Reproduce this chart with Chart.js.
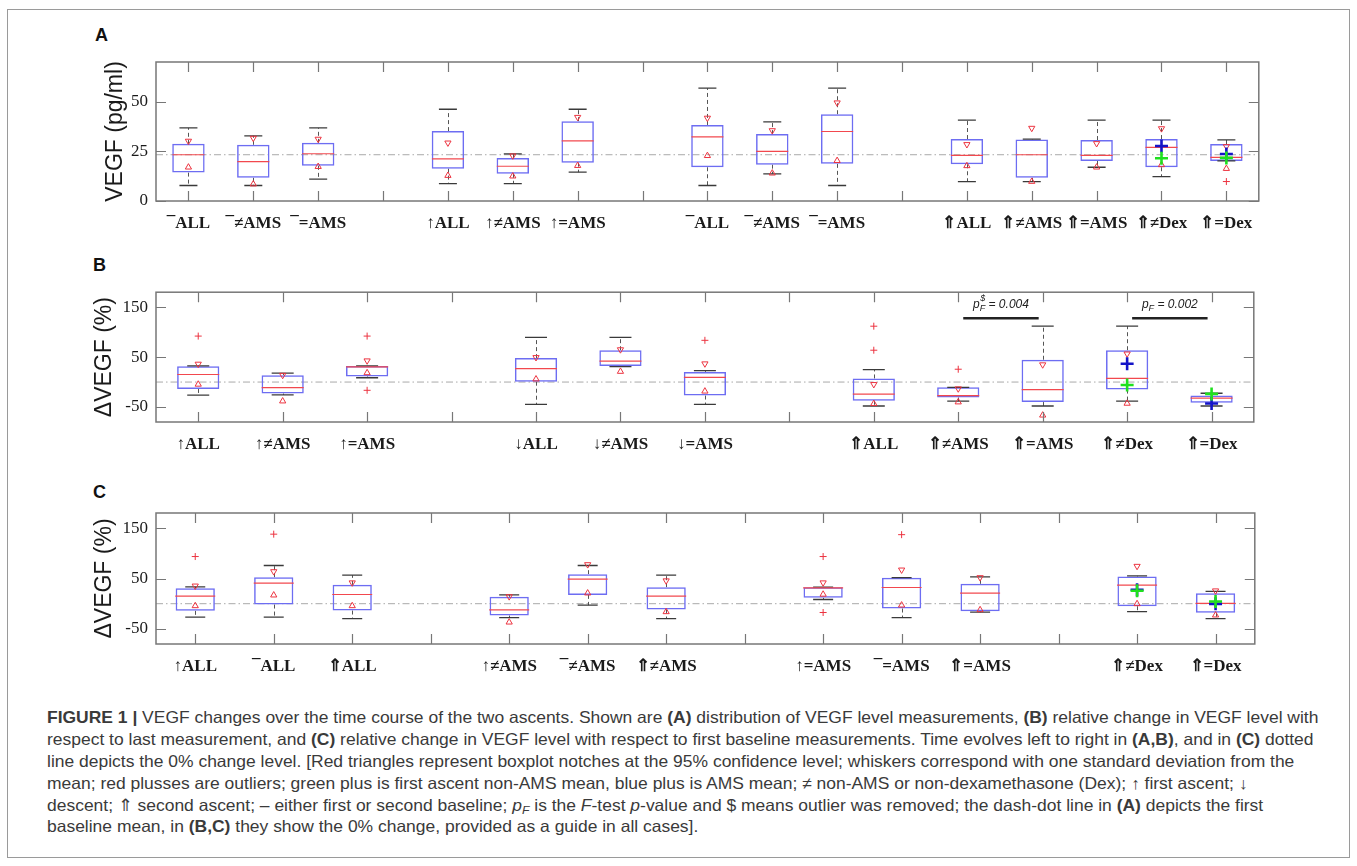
<!DOCTYPE html>
<html><head><meta charset="utf-8">
<script src="https://cdn.jsdelivr.net/npm/chart.js@4.4.0/dist/chart.umd.min.js"></script>
<style>
body{margin:0;background:#fff;width:1357px;height:866px;position:relative;overflow:hidden;font-family:'Liberation Sans',Arial,sans-serif}
#frame{position:absolute;left:7px;top:9px;width:1343px;height:849px;border:1px solid #9a9a9a;box-sizing:border-box}
.pl{position:absolute;font:bold 18px 'Liberation Sans',Arial,sans-serif;color:#111;line-height:18px}
canvas{position:absolute}
.cap{position:absolute;left:47px;white-space:nowrap;font-size:16.5px;color:#3a3a3a;transform-origin:0 50%;line-height:22px;height:22px}
.cap sub{font-size:70%;vertical-align:-3px;line-height:0}
</style></head>
<body>
<div id="frame"></div>
<div class="pl" style="left:95px;top:26px">A</div>
<div class="pl" style="left:93px;top:256px">B</div>
<div class="pl" style="left:93px;top:483px">C</div>
<canvas id="cA" width="1178" height="201" style="left:98px;top:40px"></canvas>
<canvas id="cB" width="1189" height="192" style="left:87px;top:270px"></canvas>
<canvas id="cC" width="1189" height="194" style="left:87px;top:490px"></canvas>
<div class="cap" style="top:706px"><b>FIGURE 1 |</b> VEGF changes over the time course of the two ascents. Shown are <b>(A)</b> distribution of VEGF level measurements, <b>(B)</b> relative change in VEGF level with</div>
<div class="cap" style="top:728px">respect to last measurement, and <b>(C)</b> relative change in VEGF level with respect to first baseline measurements. Time evolves left to right in <b>(A,B)</b>, and in <b>(C)</b> dotted</div>
<div class="cap" style="top:750px">line depicts the 0% change level. [Red triangles represent boxplot notches at the 95% confidence level; whiskers correspond with one standard deviation from the</div>
<div class="cap" style="top:772px">mean; red plusses are outliers; green plus is first ascent non-AMS mean, blue plus is AMS mean; ≠ non-AMS or non-dexamethasone (Dex); ↑ first ascent; ↓</div>
<div class="cap" style="top:794px">descent; ⇑ second ascent; – either first or second baseline; <i>p<sub>F</sub></i> is the <i>F</i>-test <i>p</i>-value and $ means outlier was removed; the dash-dot line in <b>(A)</b> depicts the first</div>
<div class="cap" style="top:815px">baseline mean, in <b>(B,C)</b> they show the 0% change, provided as a guide in all cases].</div>
<script>
// ---------- Panel A: VEGF (pg/ml) ----------
const labelsA = ['¯ALL','¯≠AMS','¯=AMS','','↑ALL','↑≠AMS','↑=AMS','','¯ALL','¯≠AMS','¯=AMS','','⇑ALL','⇑≠AMS','⇑=AMS','⇑≠Dex','⇑=Dex'];
const whLoA   = [7.8, 7.8, 11, null, 8.8, 8.8, 14.5, null, 7.8, 13.7, 7.8, null, 9.8, 9.8, 17, 12.3, 20.2];
const q1A     = [14.3, 11.7, 17.7, null, 16.3, 13.7, 19.3, null, 17, 18.3, 18.7, null, 18.5, 11.7, 20.2, 17, 20.2];
const medA    = [23.3, 19.8, 23.8, null, 21.2, 17.5, 30.3, null, 32.3, 25, 35, null, 23, 23.3, 23, 27, 22];
const q3A     = [28.8, 28.3, 29.3, null, 35.2, 21.7, 40.2, null, 38.3, 33.7, 43.7, null, 31.2, 31, 30.7, 31.2, 28.7];
const whHiA   = [36.8, 32.8, 36.8, null, 46.2, 23.7, 46.2, null, 56.8, 39.8, 56.8, null, 40.7, 31.2, 40.7, 40.7, 30.8];
const notchHiA= [30.2, 31.7, 31.2, null, 29.3, 22.8, 42.2, null, 41.8, 35.5, 49.5, null, 28.5, 36.7, 29, 36.5, 27.5];
const notchLoA= [17, 8.5, 17.3, null, 12.8, 12.5, 17.8, null, 22.8, 14, 20.3, null, 17.7, 9.8, 17, 18.2, 16.3];
const out1A   = [null,null,null,null,null,null,null,null,null,null,null,null,null,null,null,null,9.8];
const out2A   = [null,null,null,null,null,null,null,null,null,null,null,null,null,null,null,null,null];
const greenA  = [null,null,null,null,null,null,null,null,null,null,null,null,null,null,null,21.5,21.7];
const blueA   = [null,null,null,null,null,null,null,null,null,null,null,null,null,null,null,27.7,23.7];
const guideA  = 23.3;
const yTicksA = [0, 25, 50];

// ---------- Panel B: ΔVEGF vs last measurement ----------
const labelsB = ['↑ALL','↑≠AMS','↑=AMS','','↓ALL','↓≠AMS','↓=AMS','','⇑ALL','⇑≠AMS','⇑=AMS','⇑≠Dex','⇑=Dex'];
const whLoB   = [-26.3, -25.7, 8.6, null, -44.7, 30.9, -44.7, null, -48, -38.2, -48, -38.2, -48];
const q1B     = [-13.8, -23, 11.2, null, 0.7, 32.2, -27, null, -37.5, -30.9, -40.1, -15.1, -41.5];
const medB    = [15.1, -11.2, 30.3, null, 27, 42.1, 9.2, null, -24.3, -27, -15.1, 7.2, -32.2];
const q3B     = [31.6, 13.8, 32.2, null, 48, 63.8, 20.4, null, 7.2, -10.5, 44.7, 63.8, -27];
const whHiB   = [32.5, 17.8, 32.5, null, 89.5, 89.5, 23, null, 25, -10.5, 111.9, 111.9, -22.4];
const notchHiB= [36.2, 13.8, 42.8, null, 49.4, 65.1, 36.8, null, -4.6, -13.2, 34.9, 56.6, null];
const notchLoB= [-4.6, -38.2, 18.4, null, 5.9, 21.1, -18.4, null, -43.4, -40.1, -66.5, -42.8, null];
const out1B   = [92.1, null, 92.1, null, null, null, 83.6, null, 111.9, 25.7, null, null, null];
const out2B   = [null, null, -16.5, null, null, null, null, null, 63.8, null, null, null, null];
const greenB  = [null,null,null,null,null,null,null,null,null,null,null,-5.9,-23.7];
const blueB   = [null,null,null,null,null,null,null,null,null,null,null,36.8,-42.8];
const guideB  = 0;
const yTicksB = [-50, 50, 150];
const annB    = [{from:9, to:10, y:128, sup:'$', val:' = 0.004'}, {from:11, to:12, y:128, sup:'', val:' = 0.002'}];

// ---------- Panel C: ΔVEGF vs first baseline ----------
const labelsC = ['↑ALL','¯ALL','⇑ALL','','↑≠AMS','¯≠AMS','⇑≠AMS','','↑=AMS','¯=AMS','⇑=AMS','','⇑≠Dex','⇑=Dex'];
const whLoC   = [-26.8, -26.8, -29.5, null, -27.5, -3, -29.5, null, 8.3, -27.5, -16.9, null, -15.6, -29.8];
const q1C     = [-14.2, -1.7, -13.6, null, -23.5, 17.5, -11.6, null, 11.6, -9.6, -14.9, null, -5, -17.9];
const medC    = [14.9, 40.7, 18.2, null, -12.3, 48.7, 14.9, null, 31.5, 32.1, 20.9, null, 36.8, 0.7];
const q3C     = [30.8, 52.6, 37.4, null, 13.6, 58.6, 32.8, null, 32.8, 51.3, 39.4, null, 54, 20.5];
const whHiC   = [33.4, 75.8, 56.6, null, 17.5, 75.8, 56.6, null, 33, 51.9, 53.3, null, 55.3, 24.5];
const notchHiC= [35.4, 63.9, 41.7, null, 14.2, 77.8, 45.7, null, 41.7, 67.2, 52, null, 74.5, 25.8];
const notchLoC= [-4.3, 16.9, -4.3, null, -36.8, 20.9, -16.2, null, 18.5, -3, -12.3, null, -0.3, -22.8];
const out1C   = [93.6, 138, null, null, null, null, null, null, 93.6, 137, null, null, null, null];
const out2C   = [null, null, null, null, null, null, null, null, -17.5, null, null, null, null, null];
const greenC  = [null,null,null,null,null,null,null,null,null,null,null,null,25.8,4.3];
const blueC   = [null,null,null,null,null,null,null,null,null,null,null,null,27.8,-0.3];
const guideC  = 0;
const yTicksC = [-50, 50, 150];

const RED = '#ec3440', BOX = '#6d6df2', MED = '#f2484e', FRAME = '#777';

function makePlugin(d, ann){
  return {
    id:'boxparts',
    beforeDatasetsDraw(chart){
      const {ctx, chartArea:a, scales:{x, y}} = chart;
      ctx.save();
      ctx.lineWidth = 1; ctx.strokeStyle = '#a9a9a9'; ctx.setLineDash([7,3,1.5,3]);
      const gy = y.getPixelForValue(d.guide);
      ctx.beginPath(); ctx.moveTo(a.left, gy); ctx.lineTo(a.right, gy); ctx.stroke();
      ctx.setLineDash([4,3]); ctx.strokeStyle = '#555';
      d.q1.forEach((v, i) => {
        if (v == null) return;
        const px = Math.round(x.getPixelForValue(i)) + 0.5;
        ctx.beginPath();
        ctx.moveTo(px, y.getPixelForValue(d.q3[i])); ctx.lineTo(px, y.getPixelForValue(d.hi[i]));
        ctx.moveTo(px, y.getPixelForValue(v)); ctx.lineTo(px, y.getPixelForValue(d.lo[i]));
        ctx.stroke();
      });
      ctx.restore();
    },
    afterDraw(chart){
      const {ctx, chartArea:a, scales:{x, y}} = chart;
      ctx.save();
      ctx.strokeStyle = FRAME; ctx.lineWidth = 1.5; ctx.setLineDash([]);
      ctx.strokeRect(a.left, a.top, a.right - a.left, a.bottom - a.top);
      ctx.beginPath();
      for (let i = 0; i < chart.data.labels.length; i++) {
        const px = Math.round(x.getPixelForValue(i)) + 0.5;
        ctx.moveTo(px, a.bottom); ctx.lineTo(px, a.bottom - 10);
        ctx.moveTo(px, a.top); ctx.lineTo(px, a.top + 10);
      }
      y.ticks.forEach(t => {
        const py = Math.round(y.getPixelForValue(t.value)) + 0.5;
        ctx.moveTo(a.left, py); ctx.lineTo(a.left + 10, py);
        ctx.moveTo(a.right, py); ctx.lineTo(a.right - 10, py);
      });
      ctx.lineWidth = 1.2; ctx.stroke();
      (ann || []).forEach(n => {
        const x0 = x.getPixelForValue(n.from) + 5, x1 = x.getPixelForValue(n.to) - 4;
        const ly = y.getPixelForValue(n.y);
        ctx.beginPath(); ctx.strokeStyle = '#222'; ctx.lineWidth = 2.5;
        ctx.moveTo(x0, ly); ctx.lineTo(x1, ly); ctx.stroke();
        ctx.fillStyle = '#222'; ctx.textBaseline = 'middle'; ctx.textAlign = 'left';
        const big = 'italic 12px "Liberation Sans", Arial', small = 'italic 9px "Liberation Sans", Arial';
        ctx.font = big; const wp = ctx.measureText('p').width, wv = ctx.measureText(n.val).width;
        ctx.font = small; const wf = Math.max(ctx.measureText('F').width, ctx.measureText(n.sup).width);
        const tot = wp + wf + wv; let tx = (x0 + x1) / 2 - tot / 2; const ty = ly - 14;
        ctx.font = big; ctx.fillText('p', tx, ty); tx += wp;
        ctx.font = small; ctx.fillText('F', tx, ty + 4); if (n.sup) ctx.fillText(n.sup, tx + 0.5, ty - 6); tx += wf;
        ctx.font = big; ctx.fillText(n.val, tx, ty);
      });
      ctx.restore();
    }
  };
}

function makeChart(id, labels, d, opt){
  const pt = (data, style, r, color, bw, extra) => Object.assign({
    type:'line', data, showLine:false, pointStyle:style, pointRadius:r, pointHoverRadius:r,
    borderColor:color, pointBorderColor:color, pointBackgroundColor:'rgba(0,0,0,0)', borderWidth:bw, pointBorderWidth:bw
  }, extra || {});
  const datasets = [
    pt(d.green, 'cross', 6.5, '#1fe01f', 2.6),
    pt(d.blue, 'cross', 6.5, '#1414c8', 2.6),
    pt(d.out1, 'cross', 3.5, RED, 1),
    pt(d.out2, 'cross', 3.5, RED, 1),
    pt(d.nHi, 'triangle', 3.6, RED, 1, {pointRotation:180}),
    pt(d.nLo, 'triangle', 3.6, RED, 1),
    pt(d.med, 'line', opt.boxHalf, MED, 1.2),
    pt(d.hi, 'line', opt.capHalf, '#3a3a3a', 1.3),
    pt(d.lo, 'line', opt.capHalf, '#3a3a3a', 1.3),
    { type:'bar', data:d.q1.map((v, i) => v == null ? null : [v, d.q3[i]]), backgroundColor:'rgba(0,0,0,0)',
      borderColor:BOX, borderWidth:1.5, borderSkipped:false, barPercentage:0.5, categoryPercentage:1 }
  ];
  return new Chart(document.getElementById(id), {
    type:'bar',
    data:{labels, datasets},
    options:{
      responsive:false, animation:false, devicePixelRatio:1, events:[],
      layout:{padding:{top:opt.padTop, right:10, left:0, bottom:0}},
      plugins:{legend:{display:false}, tooltip:{enabled:false}},
      scales:{
        x:{type:'category', offset:true, grid:{display:false, drawTicks:false}, border:{display:false},
           ticks:{autoSkip:false, maxRotation:0, minRotation:0, padding:12, color:'#1a1a1a',
                  font:{family:'"Liberation Serif", serif', size:17, weight:'bold'}},
           afterFit:s => { s.height = 40; }},
        y:{min:opt.min, max:opt.max, grid:{display:false, drawTicks:false}, border:{display:false},
           afterBuildTicks:s => { s.ticks = opt.ticks.map(v => ({value:v})); },
           ticks:{padding:8, color:'#1a1a1a', font:{family:'"Liberation Serif", serif', size:17}},
           title:{display:true, text:opt.title, color:'#1a1a1a', font:{family:'"Liberation Sans", Arial', size:23}, padding:{top:4, bottom:4}},
           afterFit:s => { s.width = opt.yWidth; }}
      }
    },
    plugins:[makePlugin(d, opt.ann)]
  });
}

makeChart('cA', labelsA, {lo:whLoA, q1:q1A, med:medA, q3:q3A, hi:whHiA, nHi:notchHiA, nLo:notchLoA, out1:out1A, out2:out2A, green:greenA, blue:blueA, guide:guideA},
  {min:0, max:70, ticks:yTicksA, title:'VEGF (pg/ml)', yWidth:58, padTop:22, boxHalf:16, capHalf:9});
makeChart('cB', labelsB, {lo:whLoB, q1:q1B, med:medB, q3:q3B, hi:whHiB, nHi:notchHiB, nLo:notchLoB, out1:out1B, out2:out2B, green:greenB, blue:blueB, guide:guideB},
  {min:-80, max:180, ticks:yTicksB, title:'ΔVEGF (%)', yWidth:69, padTop:22, boxHalf:21, capHalf:11, ann:annB});
makeChart('cC', labelsC, {lo:whLoC, q1:q1C, med:medC, q3:q3C, hi:whHiC, nHi:notchHiC, nLo:notchLoC, out1:out1C, out2:out2C, green:greenC, blue:blueC, guide:guideC},
  {min:-80, max:180, ticks:yTicksC, title:'ΔVEGF (%)', yWidth:69, padTop:23, boxHalf:20, capHalf:10});

// fit caption lines to the reference line length
const caps = document.querySelectorAll('.cap');
const w0 = caps[0].scrollWidth;
const s = 1271 / w0;
caps.forEach(c => { c.style.transform = 'scaleX(' + s + ')'; });
</script>
</body></html>
